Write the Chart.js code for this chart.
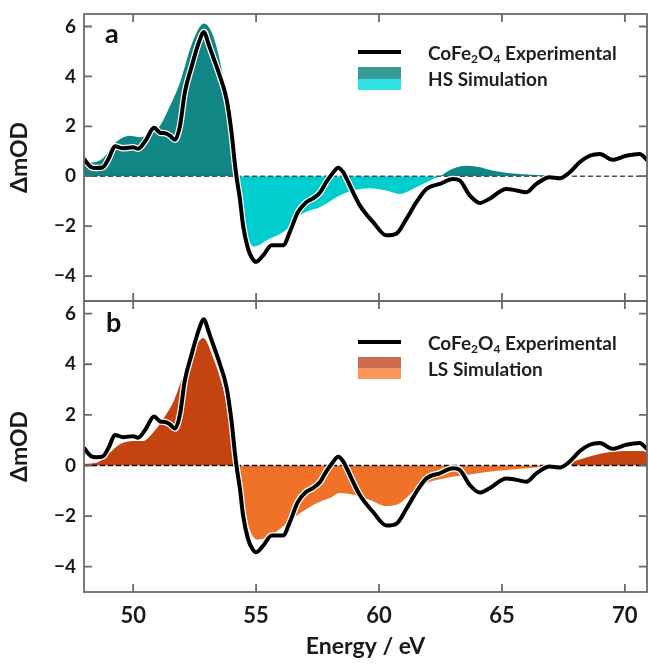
<!DOCTYPE html>
<html><head><meta charset="utf-8">
<script src="https://cdn.jsdelivr.net/npm/chart.js@4.4.1/dist/chart.umd.min.js"></script>
<style>
body{margin:0;background:#fff;width:648px;height:665px;position:relative;overflow:hidden;font-family:Lato,"Open Sans",sans-serif;}
canvas{position:absolute;left:0;}
#ca{top:0}
#cb{top:300px}
.plab{position:absolute;font-weight:700;font-size:27px;line-height:1;color:#111;}
.leg{position:absolute;font-weight:700;font-size:19px;line-height:1;color:#1e1e24;white-space:nowrap;}
.leg sub{font-size:12px;vertical-align:-3px;line-height:0;}
.lline{position:absolute;height:4px;background:#000;width:43px;left:358px;}
.lpatch{position:absolute;width:43px;left:358px;}
</style></head>
<body>
<canvas id="ca" width="648" height="302"></canvas>
<canvas id="cb" width="648" height="365"></canvas>

<div class="plab" style="left:105px;top:19px;">a</div>
<div class="plab" style="left:106px;top:308px;">b</div>

<div class="lline" style="top:50px;"></div>
<div class="lpatch" style="top:67px;height:12px;background:#3a9896;"></div>
<div class="lpatch" style="top:79px;height:11px;background:#30e2e2;"></div>
<div class="leg" style="left:428px;top:43px;">CoFe<sub>2</sub>O<sub>4</sub> Experimental</div>
<div class="leg" style="left:428px;top:69px;">HS Simulation</div>

<div class="lline" style="top:340px;"></div>
<div class="lpatch" style="top:357px;height:11px;background:#cc6a4c;"></div>
<div class="lpatch" style="top:368px;height:11px;background:#fa965a;"></div>
<div class="leg" style="left:428px;top:333px;">CoFe<sub>2</sub>O<sub>4</sub> Experimental</div>
<div class="leg" style="left:428px;top:359px;">LS Simulation</div>

<script>
// ---- data ----
const xTicks = [50, 55, 60, 65, 70];
const yTicks = [-4, -2, 0, 2, 4, 6];

const expEnergy = [48.0,48.15,48.3,48.5,48.77,49.0,49.26,49.6,50.0,50.2,50.5,50.85,51.1,51.3,51.5,51.7,51.9,52.1,52.38,52.65,52.88,53.05,53.19,53.53,53.8,54.0,54.13,54.2,54.34,54.47,54.67,54.85,55.0,55.29,55.63,56.1,56.37,56.7,57.04,57.3,57.6,57.87,58.1,58.34,58.55,58.68,59.22,59.76,60.3,60.71,61.12,61.52,61.93,62.47,63.01,63.28,63.69,64.1,64.5,65.18,65.59,65.99,66.4,66.94,67.35,67.76,68.16,68.57,68.98,69.5,70.06,70.6,70.93];
const expValues = [0.70,0.50,0.36,0.33,0.36,0.70,1.20,1.12,1.16,1.10,1.42,1.94,1.74,1.72,1.62,1.46,2.00,3.35,4.40,5.30,5.78,5.35,4.95,4.00,3.08,1.76,0.56,0.00,-0.90,-1.97,-2.90,-3.30,-3.43,-3.17,-2.77,-2.77,-2.24,-1.44,-1.04,-0.90,-0.65,-0.21,0.10,0.34,0.15,-0.10,-1.17,-1.84,-2.37,-2.30,-1.70,-1.04,-0.51,-0.31,-0.11,-0.17,-0.77,-1.07,-0.90,-0.51,-0.57,-0.64,-0.31,-0.04,-0.08,0.16,0.56,0.82,0.89,0.66,0.82,0.89,0.62];

const hsEnergy = [48.0,48.3,48.77,49.26,49.87,50.28,50.68,51.09,51.5,51.9,52.31,52.6,52.88,53.26,53.66,53.93,54.13,54.27,54.45,54.65,54.9,55.15,55.43,56.1,56.78,57.1,57.59,58.4,58.95,59.63,60.3,60.85,61.25,61.66,62.2,62.47,63.0,63.56,64.0,64.64,65.72,67.08,68.0,70.93];
const hsValues = [0.62,0.55,0.72,1.33,1.62,1.56,1.69,2.02,2.82,3.75,5.08,5.80,6.12,5.61,4.00,2.42,0.82,0.00,-1.50,-2.40,-2.82,-2.75,-2.57,-2.24,-1.57,-1.40,-1.24,-0.77,-0.57,-0.48,-0.57,-0.71,-0.57,-0.37,-0.11,0.00,0.30,0.42,0.38,0.22,0.09,0.02,0.00,0.00];

const lsEnergy = [48.0,48.3,48.65,49.06,49.46,50.0,50.41,50.82,51.22,51.63,52.04,52.44,52.85,53.26,53.66,53.93,54.13,54.23,54.47,54.75,55.09,55.7,56.24,56.78,57.46,58.0,58.4,58.95,59.63,60.3,60.85,61.39,61.93,62.74,63.69,64.64,65.72,66.81,67.35,68.16,69.11,70.06,70.93];
const lsValues = [0.07,0.08,0.17,0.51,0.84,0.97,0.97,1.31,1.84,2.51,3.57,4.51,5.04,4.24,3.04,1.84,0.64,0.00,-1.36,-2.56,-2.93,-2.69,-2.29,-1.89,-1.49,-1.29,-1.09,-1.16,-1.36,-1.60,-1.49,-1.03,-0.69,-0.49,-0.36,-0.23,-0.13,-0.05,0.00,0.24,0.48,0.57,0.57];

const xMin = 48, xMax = 70.9, yMin = -5, yMax = 6.5;

// ---- helpers ----
const pts = (xs, ys) => xs.map((x, i) => ({x, y: ys[i]}));
const FONT = 'Lato, "Open Sans", sans-serif';
const TXT = '#1a1a1a';

const framePlugin = {
  id: 'frame',
  afterDatasetsDraw(chart) {
    const {ctx, chartArea: {left, right, top, bottom}, scales: {x, y}} = chart;
    ctx.save();
    ctx.strokeStyle = '#6a6a6a';
    ctx.lineWidth = 1.8;
    ctx.strokeRect(left, top, right - left, bottom - top);
    const L = 8;
    ctx.beginPath();
    x.ticks.forEach(t => {
      const px = x.getPixelForValue(t.value);
      ctx.moveTo(px, top); ctx.lineTo(px, top + L);
      ctx.moveTo(px, bottom); ctx.lineTo(px, bottom - L);
    });
    y.ticks.forEach(t => {
      const py = y.getPixelForValue(t.value);
      ctx.moveTo(left, py); ctx.lineTo(left + L, py);
      ctx.moveTo(right, py); ctx.lineTo(right - L, py);
    });
    ctx.stroke();
    ctx.restore();
  }
};

function makeChart(id, simPts, posCol, negCol, dashCol, showX, padding) {
  return new Chart(document.getElementById(id), {
    type: 'line',
    data: {
      datasets: [
        {data: pts(expEnergy, expValues), borderColor: '#000', borderWidth: 4, pointRadius: 0,
         cubicInterpolationMode: 'monotone', fill: false, order: 1},
        {data: pts(expEnergy, expValues), borderColor: '#fff', borderWidth: 6.5, pointRadius: 0,
         cubicInterpolationMode: 'monotone', fill: false, order: 2},
        {data: [{x: xMin, y: 0}, {x: xMax, y: 0}], borderColor: dashCol, borderWidth: 1.6,
         borderDash: [5, 3], pointRadius: 0, fill: false, order: 3},
        {data: simPts, borderWidth: 0, borderColor: 'rgba(0,0,0,0)', pointRadius: 0,
         cubicInterpolationMode: 'monotone',
         fill: {target: 'origin', above: posCol, below: negCol}, order: 4}
      ]
    },
    options: {
      responsive: false, animation: false, devicePixelRatio: 1,
      layout: {padding, autoPadding: false},
      plugins: {legend: {display: false}, tooltip: {enabled: false}},
      scales: {
        x: {
          type: 'linear', min: xMin, max: xMax, display: showX,
          afterBuildTicks: s => { s.ticks = xTicks.map(v => ({value: v})); },
          afterFit: s => { s.height = showX ? 73 : 0; s.paddingLeft = 0; s.paddingRight = 0; },
          grid: {display: false, drawTicks: false},
          border: {display: false},
          ticks: {display: showX, padding: 11, color: TXT, font: {family: FONT, size: 22, weight: 'bold'}},
          title: {display: showX, text: 'Energy / eV', color: TXT, padding: {top: 0, bottom: 5},
                  font: {family: FONT, size: 23, weight: 'bold'}}
        },
        y: {
          type: 'linear', min: yMin, max: yMax,
          afterBuildTicks: s => { s.ticks = yTicks.map(v => ({value: v})); },
          afterFit: s => { s.width = 84; s.paddingTop = 0; s.paddingBottom = 0; },
          grid: {display: false, drawTicks: false},
          border: {display: false},
          ticks: {padding: 8, color: TXT, font: {family: FONT, size: 19, weight: 'bold'},
                  callback: v => String(v).replace('-', '\u2212')},
          title: {display: true, text: '\u0394mOD', color: TXT, padding: {top: 6, bottom: 0},
                  font: {family: FONT, size: 23, weight: 'bold'}}
        }
      }
    },
    plugins: [framePlugin]
  });
}

makeChart('ca', pts(hsEnergy, hsValues), '#108784', '#00cdcd', '#3d5656', false, {top: 14, right: 1, bottom: 1, left: 0});
makeChart('cb', pts(lsEnergy, lsValues), '#c54310', '#f07228', '#000', true, {top: 1, right: 1, bottom: 0, left: 0});
</script>
</body></html>
